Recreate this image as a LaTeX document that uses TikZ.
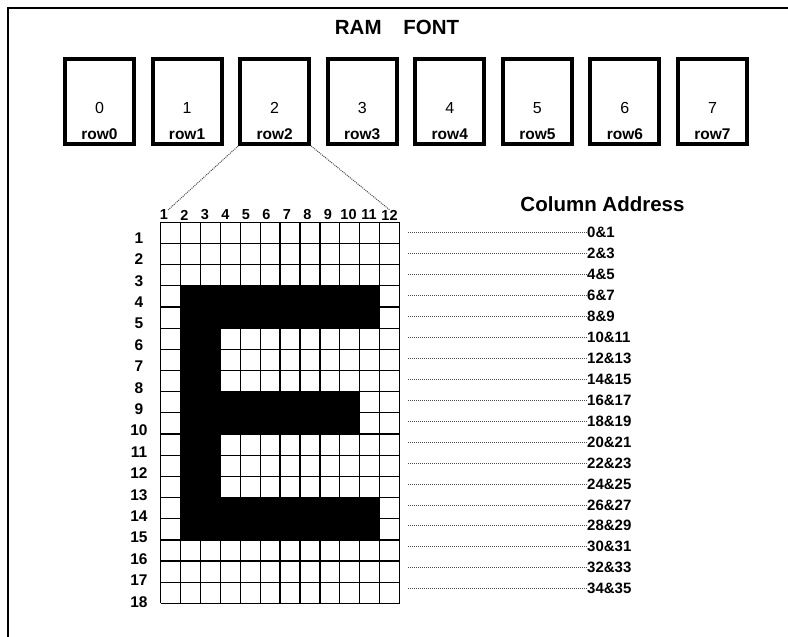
\documentclass[tikz,border=0pt]{standalone}
\usepackage{fontspec}
\setmainfont{Liberation Sans}
\usepackage{tikz}
\usetikzlibrary{positioning, calc}

\begin{document}
\begin{tikzpicture}[
  x=1pt, y=-1pt,
  ramcell/.style={rectangle, draw, line width=4pt, minimum width=69pt, minimum height=85pt, inner sep=0pt},
  celltext/.style={font=\fontsize{16}{19}\selectfont, anchor=base, inner sep=0pt},
  rowtext/.style={font=\fontsize{15.5}{18}\selectfont\bfseries, anchor=base, inner sep=0pt},
  collabel/.style={font=\fontsize{14.5}{17}\selectfont\bfseries, inner sep=0pt},
  rowlabel/.style={font=\fontsize{15.5}{18}\selectfont\bfseries, inner sep=0pt},
  addrlabel/.style={font=\fontsize{15}{18}\selectfont\bfseries, anchor=west, inner sep=0pt},
  heading/.style={font=\fontsize{20.5}{24}\selectfont\bfseries, inner sep=0pt},
  gridline/.style={line width=1.3pt},
  dotline/.style={gray!60!black, line width=0.7pt, dash pattern=on 1pt off 1pt}
]
\useasboundingbox (0,0) rectangle (788,637);
\clip (0,0) rectangle (788,637);
\draw[line width=2.5pt] (8,650) -- (8,8) -- (800,8);

% title and RAM cells
\node[heading] (title) at (397,27.5) {RAM\hspace{16pt} FONT};
\foreach \i in {0,...,7} {
  \node[ramcell] (box\i) at ({99.5+87.57*\i},101.5) {};
  \node[celltext, yshift=33pt] (num\i) at (box\i.south) {\i};
  \node[rowtext, yshift=7pt] (row\i) at (box\i.south) {row\i};
}

% the E pattern
\fill[black] (180.6,285.8) rectangle (379.7,328.2);
\fill[black] (180.6,285.8) rectangle (220.4,539.9);
\fill[black] (180.6,391.6) rectangle (359.7,434.0);
\fill[black] (180.6,497.5) rectangle (379.7,539.9);

% grid
\foreach \c in {0,...,12}
  \draw[gridline] ({160.7+19.9*\c},222.3) -- ++(0,381.1);
\foreach \r in {0,...,18}
  \draw[gridline] (160.7,{222.3+21.17*\r}) -- ++(238.8,0);

% column numbers
\foreach \i in {1,...,12}
  \node[collabel] (c\i) at ({164+20.5*(\i-1)},215) {\i};

% row numbers
\foreach \i in {1,...,18}
  \node[rowlabel] (r\i) at (139,{238+21.4*(\i-1)}) {\i};

% zoom lines
\draw[dotline, line width=1pt] (box2.south west) -- (c1.north east);
\draw[dotline, line width=1pt] (box2.south east) -- (c12.north);

% column address
\node[heading] (coladdr) at (602.5,204) {Column Address};
\foreach \i in {1,...,18} {
  \pgfmathtruncatemacro{\lo}{2*\i-2}
  \pgfmathtruncatemacro{\hi}{2*\i-1}
  \node[addrlabel] (a\i) at (587,{232.5+20.95*(\i-1)}) {\lo\&\hi};
  \coordinate (s\i) at (408,{232.5+20.95*(\i-1)});
  \draw[dotline] (s\i) -- (a\i.west);
}
\end{tikzpicture}
\end{document}
